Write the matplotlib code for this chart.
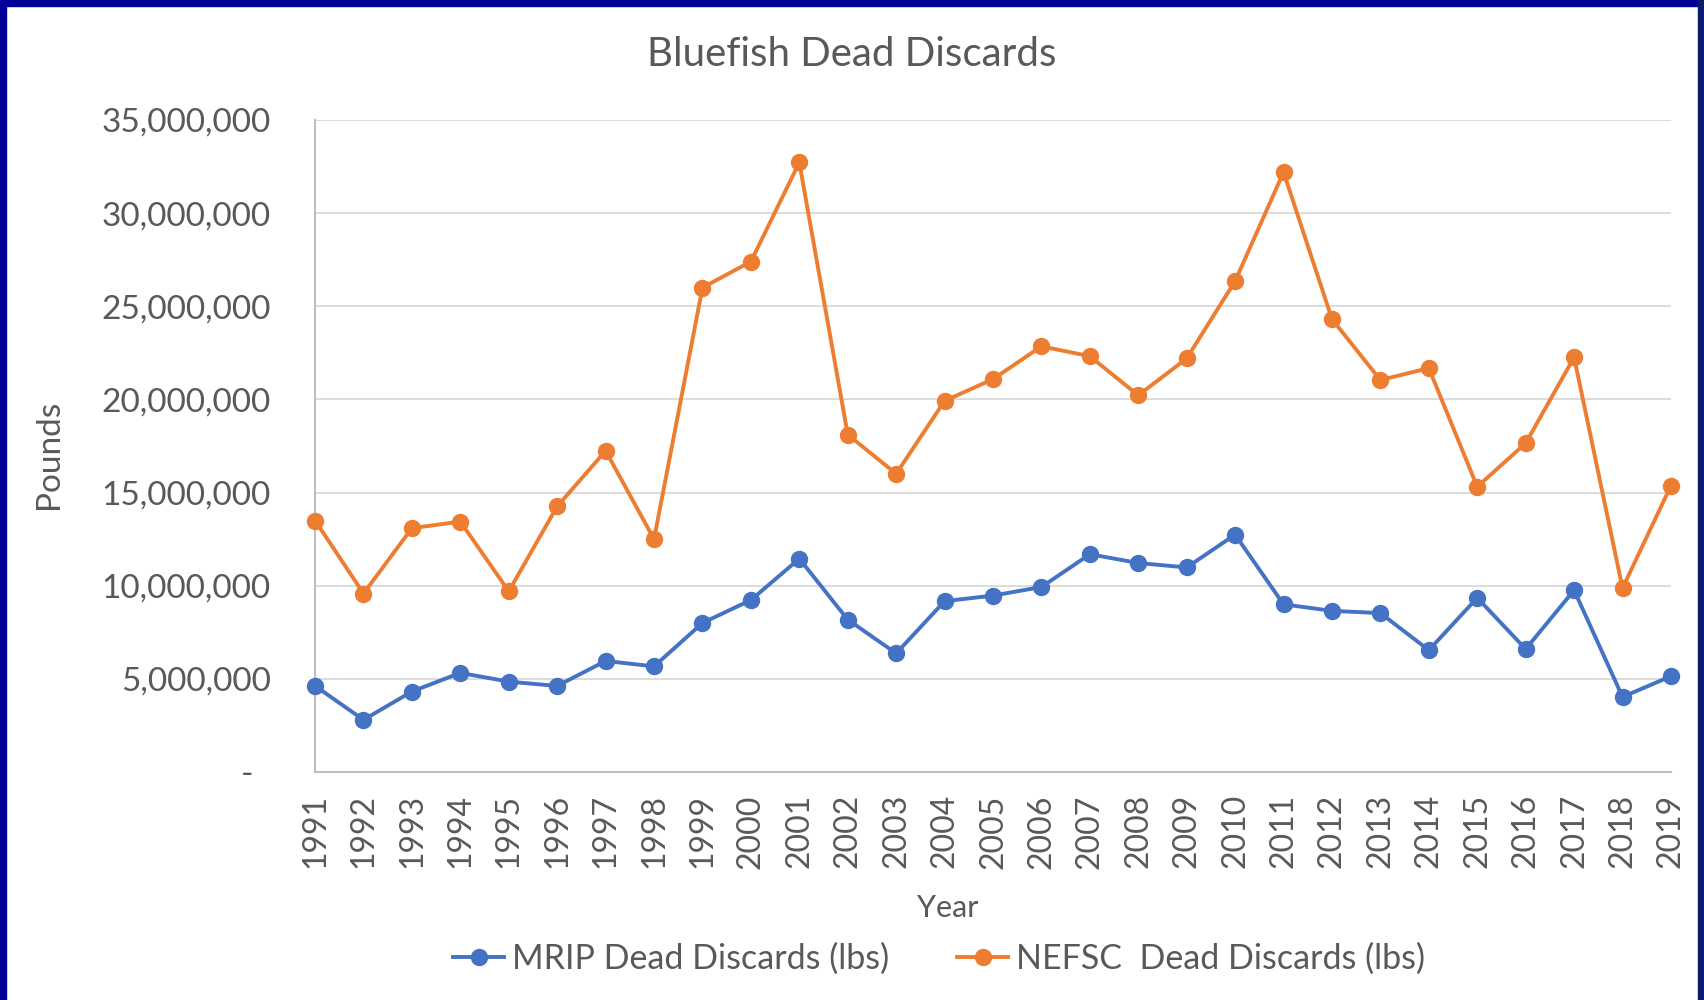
import matplotlib
matplotlib.use("Agg")
import matplotlib.pyplot as plt
from matplotlib.patches import Rectangle
from matplotlib.ticker import FuncFormatter, MultipleLocator
from matplotlib.lines import Line2D

years = list(range(1991, 2020))
mrip = [4.62e6, 2.80e6, 4.32e6, 5.32e6, 4.85e6, 4.62e6, 5.96e6, 5.67e6, 8.00e6, 9.23e6,
        11.45e6, 8.18e6, 6.37e6, 9.17e6, 9.47e6, 9.93e6, 11.69e6, 11.22e6, 10.98e6, 12.74e6,
        9.00e6, 8.65e6, 8.53e6, 6.54e6, 9.35e6, 6.60e6, 9.76e6, 4.03e6, 5.14e6]
nefsc = [13.50e6, 9.58e6, 13.09e6, 13.44e6, 9.70e6, 14.26e6, 17.24e6, 12.50e6, 26.00e6, 27.40e6,
         32.72e6, 18.11e6, 16.01e6, 19.92e6, 21.09e6, 22.85e6, 22.32e6, 20.22e6, 22.20e6, 26.35e6,
         32.20e6, 24.31e6, 21.04e6, 21.68e6, 15.31e6, 17.65e6, 22.26e6, 9.87e6, 15.37e6]

series_labels = ["MRIP Dead Discards (lbs)", "NEFSC  Dead Discards (lbs)"]
title = "Bluefish Dead Discards"

BLUE = "#4472C4"
ORANGE = "#ED7D31"
TXT = "#595959"

plt.rcParams['font.family'] = ['Lato', 'DejaVu Sans']

fig = plt.figure(figsize=(17.04, 10), dpi=100)
ax = fig.add_axes([0.1849, 0.228, 0.9806 - 0.1849, 0.88 - 0.228])

ax.plot(years, mrip, color=BLUE, lw=2.8, marker='o', ms=11.5, clip_on=False, zorder=3)
ax.plot(years, nefsc, color=ORANGE, lw=2.8, marker='o', ms=11.5, clip_on=False, zorder=3)

ax.set_xlim(1991, 2019)
ax.set_ylim(0, 35e6)
ax.yaxis.set_major_locator(MultipleLocator(5e6))
ax.yaxis.set_major_formatter(FuncFormatter(lambda v, p: '-  ' if v == 0 else f'{v:,.0f}'))
ax.set_xticks(years)
ax.set_xticklabels([str(y) for y in years], rotation=90)
ax.tick_params(axis='y', length=0, pad=32, labelsize=24, labelcolor=TXT)
ax.tick_params(axis='x', length=0, pad=16, labelsize=23, labelcolor=TXT)
ax.grid(axis='y', color='#D9D9D9', lw=1.3)
ax.set_axisbelow(True)
for s in ['top', 'right']:
    ax.spines[s].set_visible(False)
for s in ['left', 'bottom']:
    ax.spines[s].set_color('#BFBFBF')
    ax.spines[s].set_linewidth(1.5)

fig.text(0.5, 0.946, title, ha='center', va='center', fontsize=29, color=TXT)
fig.text(0.029, 0.546, "Pounds", ha='center', va='center', rotation=90, fontsize=24, color=TXT)
fig.text(0.556, 0.092, "Year", ha='center', va='center', fontsize=22, color=TXT)

handles = [Line2D([], [], color=BLUE, lw=2.8, marker='o', ms=11.5),
           Line2D([], [], color=ORANGE, lw=2.8, marker='o', ms=11.5)]
fig.legend(handles, series_labels, loc='center', bbox_to_anchor=(0.551, 0.041), ncol=2,
           frameon=False, fontsize=24.5, labelcolor=TXT, handlelength=1.5, handletextpad=0.22,
           columnspacing=2.0)

# dark blue border
fig.patches.append(Rectangle((0, 0), 0.0035, 1, transform=fig.transFigure, color='#000099'))
fig.patches.append(Rectangle((0, 0.994), 1, 0.006, transform=fig.transFigure, color='#000099'))
fig.patches.append(Rectangle((0.9965, 0), 0.0035, 1, transform=fig.transFigure, color='#0a1a70'))

fig.savefig("out.png", dpi=100)
